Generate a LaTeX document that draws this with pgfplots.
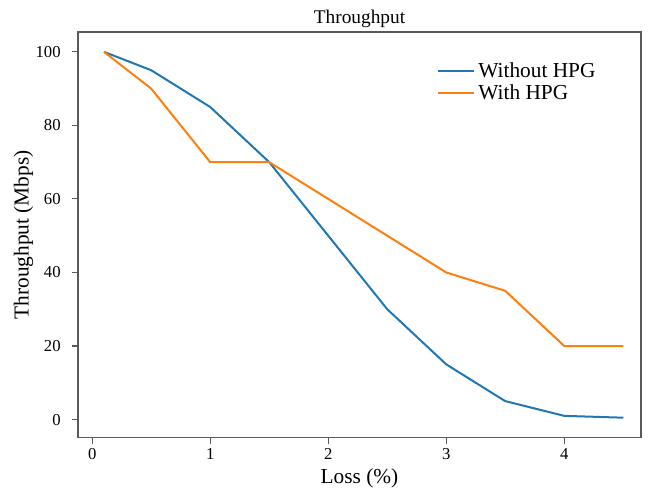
\documentclass[border=0pt]{standalone}
\usepackage{pgfplots}
\pgfplotsset{compat=1.18}
\usepackage{fontspec}
\setmainfont{Liberation Serif}
\definecolor{tabblue}{HTML}{1F77B4}
\definecolor{taborange}{HTML}{FF7F0E}
\begin{document}
\begin{tikzpicture}
\begin{axis}[
  scale only axis,
  width=422pt, height=304pt,
  xmin=-0.12, xmax=4.65,
  ymin=-4.9, ymax=105.4,
  xtick={0,1,2,3,4}, ytick={0,20,40,60,80,100},
  tick align=outside, tick pos=left,
  major tick length=4.5pt,
  axis line style={gray!70!black, line width=0.9pt},
  every tick/.style={gray!70!black, line width=0.8pt},
  /pgf/number format/assume math mode=true,
  tick label style={font=\fontsize{12.5}{14}\selectfont},
  yticklabel style={xshift=-5pt},
  label style={font=\fontsize{16}{18}\selectfont},
  title style={font=\fontsize{14.5}{16}\selectfont, yshift=-6pt},
  title={Throughput},
  xlabel={Loss (\%)},
  ylabel={Throughput (Mbps)},
  xlabel style={yshift=0pt},
  ylabel style={yshift=-5pt},
  legend style={at={(0.63,0.935)}, anchor=north west, draw=none, fill=none,
    font=\fontsize{16}{18}\selectfont, row sep=1.5pt,
    nodes={inner xsep=2.5pt, inner ysep=1.2pt}},
  legend cell align=left,
  legend image code/.code={\draw[#1, line width=1.5pt] (0cm,0cm) -- (0.95cm,0cm);},
]
\addplot[tabblue, line width=1.5pt] coordinates {
(0.1,100) (0.5,95) (1,85) (1.5,70) (2,50) (2.5,30) (3,15) (3.5,5) (4,1) (4.5,0.5)};
\addlegendentry{Without HPG}
\addplot[taborange, line width=1.5pt] coordinates {
(0.1,100) (0.5,90) (1,70) (1.5,70) (2,60) (2.5,50) (3,40) (3.5,35) (4,20) (4.5,20)};
\addlegendentry{With HPG}
\end{axis}
\path (current axis.south west) ++(-58.5pt,-41pt);
\path (current axis.north east) ++(10.5pt,24pt);
\end{tikzpicture}
\end{document}
